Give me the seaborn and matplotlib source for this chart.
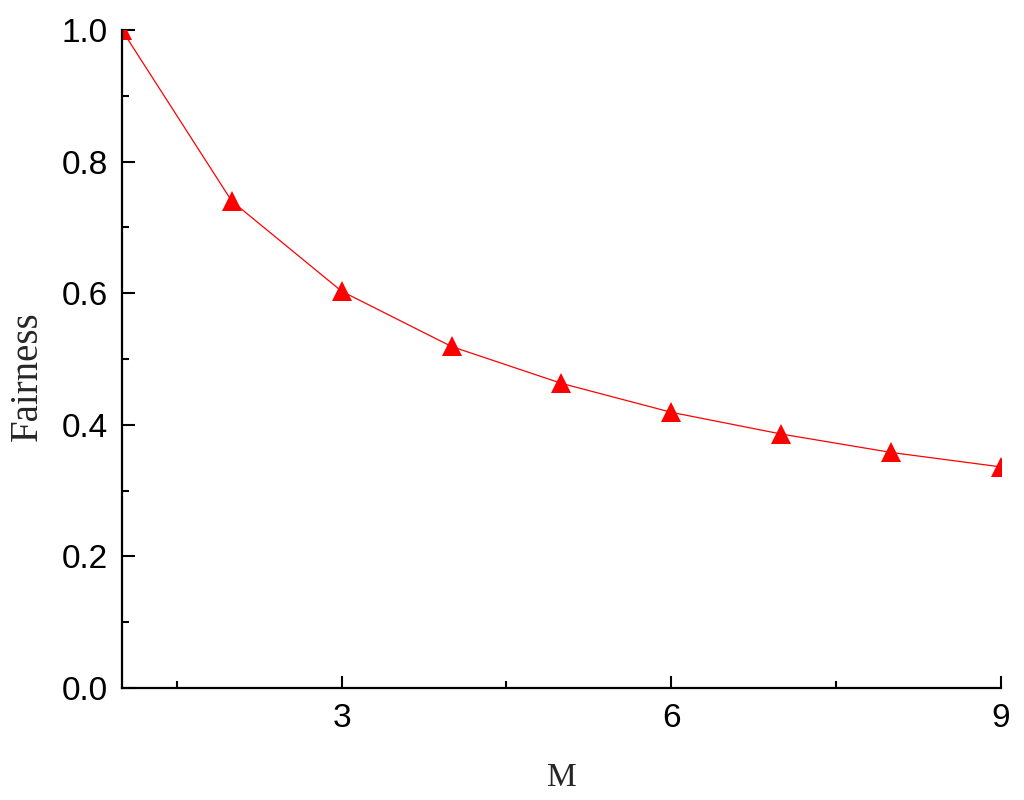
import pandas as pd
import seaborn as sns
import matplotlib.pyplot as plt
from matplotlib.ticker import MultipleLocator

m_values = [1, 2, 3, 4, 5, 6, 7, 8, 9]
fairness = [1.0, 0.740, 0.603, 0.519, 0.463, 0.419, 0.386, 0.358, 0.336]

data = pd.DataFrame({"M": m_values, "Fairness": fairness})

sns.set_style("ticks")
plt.rcParams["font.family"] = ["Liberation Sans", "DejaVu Sans"]

fig = plt.figure(figsize=(10.24, 8.0), dpi=100)
ax = fig.add_axes([0.119, 0.14, 0.8585, 0.8225])

sns.lineplot(data=data, x="M", y="Fairness", ax=ax, color="red", linewidth=0.9,
             marker="^", markersize=14, markeredgewidth=0, markerfacecolor="red")

ax.set_xlim(1, 9)
ax.set_ylim(0, 1.0)
ax.xaxis.set_major_locator(MultipleLocator(3))
ax.xaxis.set_minor_locator(MultipleLocator(1.5))
ax.yaxis.set_major_locator(MultipleLocator(0.2))
ax.yaxis.set_minor_locator(MultipleLocator(0.1))
ax.set_yticks([0.0, 0.2, 0.4, 0.6, 0.8, 1.0])
ax.set_yticklabels(["0.0", "0.2", "0.4", "0.6", "0.8", "1.0"])

ax.tick_params(which="major", direction="in", length=9, width=1.5,
               labelsize=24, pad=10, color="black", labelcolor="black")
ax.tick_params(which="minor", direction="in", length=5, width=1.5, color="black")
ax.tick_params(axis="x", which="major", pad=11)

for side in ["left", "bottom"]:
    ax.spines[side].set_linewidth(1.6)
    ax.spines[side].set_color("black")
sns.despine(ax=ax)

ax.set_xlabel("M", fontfamily="Liberation Serif", fontsize=24, labelpad=20)
ax.set_ylabel("Fairness", fontfamily="Liberation Serif", fontsize=28)
ax.yaxis.set_label_coords(-0.086, 0.474)

fig.savefig("out.png", dpi=100)
